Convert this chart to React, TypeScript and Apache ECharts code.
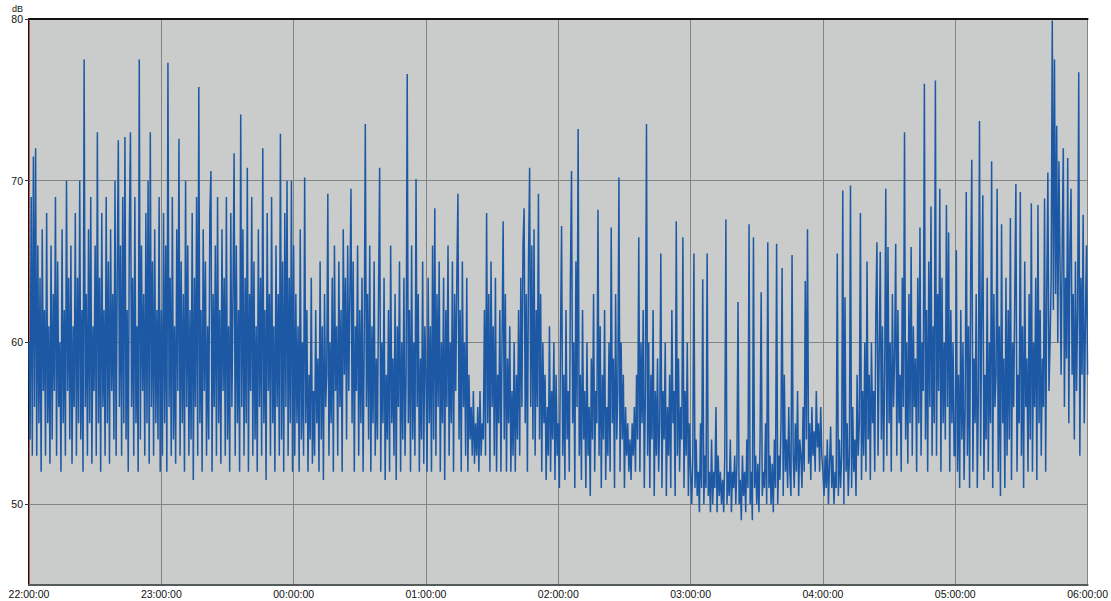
import React, { useEffect, useRef } from "react";
import * as echarts from "echarts";

const hourLabels = ["22:00:00", "23:00:00", "00:00:00", "01:00:00", "02:00:00", "03:00:00", "04:00:00", "05:00:00", "06:00:00"];
const yTickValues = [50, 60, 70, 80];
const gridLevels = [50, 60, 70];
const minutesPerSample = 0.5;

const h22 = [
  60,54,69,53,71.5,56,72,53,66,55, 64,52,67,57,62,53,68,55,61,52.5,
  66,54,63,57,69,53,65,56,60,52, 67,55,62,53,70,57,64,54,66,52.5,
  61,56,68,53,64,55,70,54,62,52, 77.5,56,63,53,67,55,69,52.5,61,57,
  66,53,73,55,64,52,68,56,62,53, 69,55,65,52.5,67,57,63,54,70,53,
  64,72.5,56,66,53,69,55,72.7,54,62, 52,67,73,56,64,53,69,55,61,52,
  77.5,54,66,57,63,53,68,55,70,52.5, 73,56,65,53,67,55,62,54,69,52,
];
const h23 = [
  62,53,68,55,66,52,77.3,56,64,53, 69,54,61,52.5,67,57,72.6,53,65,55,
  63,52,70,56,66,53,62,54,68,51.5, 64,56,69,53,75.8,55,62,52,67,57,
  65,53,61,54,68,70.6,52,63,56,66, 53,69,55,62,52.5,67,57,64,53,69,
  54,61,52,68,56,63,71.7,53,66,55, 62,52,74.1,56,67,53,64,55,70.8,52,
  63,57,69,53,65,54,61,52,67,56, 64,53,72,55,62,51.5,68,57,63,53,
  69,55,61,52,66,56,63,53,72.9,54, 65,52,68,56,70,53,64,55,70,52,
];
const h00 = [
  66,53,63,55,61,52,67,54,60,53, 70.2,55,62,52,58,54,64,52.5,57,53,
  62,55,59,52,65,54,61,51.5,63,56, 58,69.2,53,60,55,64,52,66,57,61,
  53,65,56,62,52,67,58,64,54,66, 57,63,69.5,55,65,52,61,57,66,53,
  62,55,64,52,60,73.5,56,63,54,66, 52,61,55,65,53,59,54,63,70.8,52,
  60,55,64,51.5,58,54,62,52,66,55, 59,53,63,51.5,61,56,65,52,60,54,
  64,53,58,76.6,55,62,52,66,54,60, 53,70.1,56,63,52,59,54,65,52.5,61,
];
const h01 = [
  58,52,64,55,61,52,66,54,68.3,53, 63,56,65,52,60,55,64,51.5,62,56,
  66,53,60,55,65,52,63,57,64,69.2, 54,62,52,65,56,60,53,64,52,58,
  54,56,53,57,52.5,55,53,56,52,57, 53,55,54,62,53,68,55,63,52,65,
  56,61,53,64,52,58,55,62,52,60, 67.5,54,63,52,59,55,61,52,57,53,
  60,52,58,54,62,53,64,56,66,68.3, 55,63,52,65,70.8,56,66,54,67,53,
  62,56,69.2,54,63,52,60,55,58,51.5, 56,53,61,52,57,54,60,51.5,58,53,
];
const h02 = [
  55,51,60,67.2,53,58,51.5,62,54,57, 52,64,70.6,55,60,51,65,56,73.2,53,
  58,51.5,62,54,57,51,60,53,56,50.5, 59,54,63,52,57,55,68.2,53,61,51,
  58,54,62,51.5,56,53,60,52,67.1,55, 59,51,63,54,57,70.2,52,60,54,58,
  51,56,53,55,52,54,51.5,55,53,56, 52,58,54,66.5,52,60,55,62,51,57,
  73.5,53,60,51,58,54,62,50.5,57,53, 59,52,55,65.5,51,57,54,60,50.5,56,
  53,58,51,62,55,57,50.5,67.5,53,59, 52,56,54,66.5,51,57,53,60,50.5,55,
];
const h03 = [
  52,50,53,65.5,51,54,50.5,52,49.5,55, 51,63.9,50,53,51,65.5,50.5,52,49.5,54,
  50,52,51,56,49.5,53,50.5,52,50,51.5, 49.5,53,67.6,50,52,50.5,54,49.5,52,51,
  53,50,52.5,62.5,50,51.5,49,53,50.5,52, 49.5,54,51,67.3,50,52,49,66.5,51,53,
  50,52.5,49.5,54,63.1,50.5,52,51,55,50, 66.2,51,53,50,52.5,49.5,54,51,66.1,50,
  53,51.5,55,64.6,50.5,58,52,54,51,56, 52,50.5,65.4,53,51,55,52,57,50.5,54,
  53,51,56,52,63.8,54,67,52.5,55,51.5, 56,53,54.5,52,57,53.5,55,52,56,53,
];
const h04 = [
  52,50.5,53,51,54,50,52.5,54.8,51,53, 50,52,51,65.5,50.5,54,51,53,69.4,50,
  62.8,52,55,50.5,53,69.7,51,56,52,54, 50.5,58,53,55,68,51.5,57,53,60,52,
  65,54,58,51.5,60,55,57,52,62,66.2, 53,59,65.6,54,61,52,58,69.5,53,65.9,
  55,60,52,63,56,59,66.1,53,62,55, 58,52,64,56,73,54,60,52.5,63,55,
  65.9,53,61,56,59,52,64,55,67.1,53, 60,57,76,54,62,52,65,56,68.4,53,
  61,55,76.2,53,63,57,69.5,52,64,55, 60,54,68.5,56,66.8,52,62,55,60,53,
];
const h05 = [
  53,65.7,52,58,51,62,54,60,51.5,56, 69.3,53,61,51,64,71.3,52,59,55,63,
  51,57,73.7,53,62,69.1,51.5,58,54,64, 52,60,55,71.2,51,63,56,58,69.5,52,
  61,50.5,67.3,55,59,51,64,53,62,54, 67.7,51.5,60,56,63,69.8,52,58,55,69.3,
  53,61,51,65,56,59,52,63,54,68.6, 52,60,56,64,51.5,68.5,55,62,53,59,
  56,68.9,52,63,70.5,57,60,64,79.9,62, 77.5,63,73.4,60,71.2,65,58,66,72,56,
  64,59,71.4,55,66,69.5,58,63,54,65, 57,62,76.7,53,64,58,67.9,55,61,66,
];
const h06 = [58];

export default function App() {
  const ref = useRef<HTMLDivElement>(null);
  useEffect(() => {
    if (!ref.current) return;
    const chart = echarts.init(ref.current, undefined, { renderer: "svg" });
    const all = [...h22, ...h23, ...h00, ...h01, ...h02, ...h03, ...h04, ...h05, ...h06];
    const seriesData = all.map((v, i) => [i * minutesPerSample, v]);
    const font = "'Liberation Sans', Arial, sans-serif";
    chart.setOption({
      animation: false,
      backgroundColor: "#ffffff",
      grid: {
        left: 29, right: 22, top: 19, bottom: 16,
        show: true, backgroundColor: "#c9cccb", borderWidth: 0,
      },
      xAxis: [
        {
          type: "value", min: 0, max: 480, interval: 60,
          axisLine: { show: true, lineStyle: { color: "#555a5a", width: 2 } },
          axisTick: { show: false },
          axisLabel: {
            color: "#111", fontSize: 10.5, fontFamily: font, margin: 3,
            formatter: (v: number) => hourLabels[Math.round(v / 60)] ?? "",
          },
          splitLine: { show: true, lineStyle: { color: "#7f8585", width: 1 } },
        },
        {
          type: "value", position: "top", min: 0, max: 1,
          axisLine: { show: true, lineStyle: { color: "#111", width: 2 } },
          axisTick: { show: false }, axisLabel: { show: false }, splitLine: { show: false },
        },
      ],
      yAxis: [
        {
          type: "value", min: 45, max: 80, interval: 5,
          name: "dB", nameLocation: "end", nameGap: 2,
          nameTextStyle: { color: "#111", fontSize: 9, fontFamily: font, align: "right", padding: [0, 6, 0, 0] },
          axisLine: { show: true, lineStyle: { color: "#111", width: 2 } },
          axisTick: { show: true, customValues: yTickValues, length: 4, lineStyle: { color: "#333" } },
          axisLabel: { color: "#111", fontSize: 10.5, fontFamily: font, margin: 6, customValues: yTickValues },
          splitLine: { show: false },
        },
        {
          type: "value", position: "right", min: 0, max: 1,
          axisLine: { show: true, lineStyle: { color: "#e06666", width: 1, type: "dotted" } },
          axisTick: { show: false }, axisLabel: { show: false }, splitLine: { show: false },
        },
      ],
      series: [
        {
          type: "line", data: [], z: 1, silent: true,
          markLine: {
            z: 1, silent: true, symbol: ["none", "none"], label: { show: false },
            lineStyle: { color: "#7f8585", type: "solid", width: 1 },
            data: gridLevels.map((v) => ({ yAxis: v })),
          },
        },
        {
          type: "line", data: seriesData, z: 3, showSymbol: false, symbol: "none",
          lineStyle: { color: "#1c58a4", width: 1.5 },
        },
      ],
    });
    return () => chart.dispose();
  }, []);
  return <div ref={ref} style={{ position: "absolute", left: 0, top: 0, width: 1111, height: 601 }} />;
}
